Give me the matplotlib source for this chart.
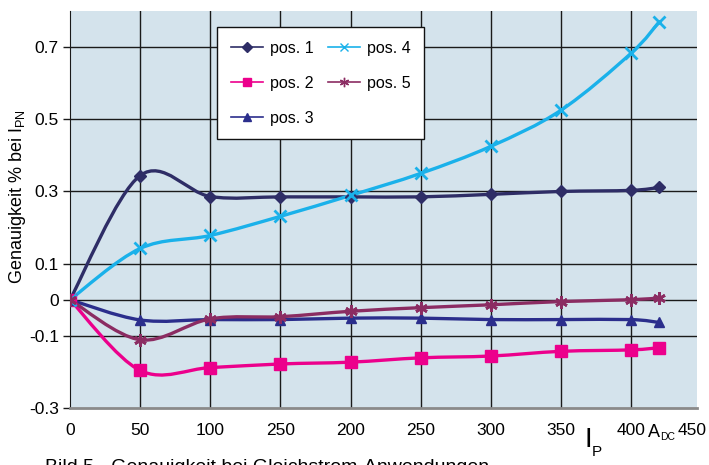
import numpy as np
import matplotlib
matplotlib.use('Agg')
import matplotlib.pyplot as plt
from matplotlib.path import Path
from matplotlib.patches import PathPatch
from matplotlib.lines import Line2D

plt.rcParams['font.family'] = ['Liberation Sans', 'DejaVu Sans']

# Strom I_P in A (DC)
current = [0, 50, 100, 150, 200, 250, 300, 350, 400, 420]
tick_pos = [0, 50, 100, 150, 200, 250, 300, 350, 400]
tick_labels = ['0', '50', '100', '250', '200', '250', '300', '350', '400']

# Genauigkeit % bei I_PN
pos1 = [0, 0.344, 0.286, 0.285, 0.285, 0.285, 0.292, 0.300, 0.303, 0.311]
pos2 = [0, -0.196, -0.188, -0.178, -0.173, -0.161, -0.156, -0.143, -0.139, -0.133]
pos3 = [0, -0.056, -0.055, -0.055, -0.051, -0.051, -0.055, -0.055, -0.055, -0.063]
pos4 = [0, 0.142, 0.178, 0.231, 0.289, 0.350, 0.425, 0.525, 0.683, 0.770]
pos5 = [0, -0.111, -0.053, -0.047, -0.032, -0.022, -0.014, -0.005, 0.000, 0.005]

series = [
    ('pos. 1', pos1, '#2e2d66', 'D', 6.5, 1.0),
    ('pos. 2', pos2, '#ec008c', 's', 8.5, 1.0),
    ('pos. 3', pos3, '#2b2e8c', '^', 7.5, 1.0),
    ('pos. 4', pos4, '#1ab1ea', 'x', 8, 2.0),
    ('pos. 5', pos5, '#8b2c62', (6, 2, 0), 9, 2.0),
]


def smooth_path(x, y):
    # Excel-artige geglaettete Linie (Catmull-Rom als Bezier)
    pts = np.column_stack([x, y]).astype(float)
    n = len(pts)
    verts = [pts[0]]
    codes = [Path.MOVETO]
    for i in range(n - 1):
        p0 = pts[i - 1] if i > 0 else pts[i]
        p1 = pts[i]
        p2 = pts[i + 1]
        p3 = pts[i + 2] if i + 2 < n else pts[i + 1]
        c1 = p1 + (p2 - p0) / 6.0
        c2 = p2 - (p3 - p1) / 6.0
        verts += [c1, c2, p2]
        codes += [Path.CURVE4] * 3
    return Path(verts, codes)


fig = plt.figure(figsize=(7.09, 4.65), dpi=100)
ax = fig.add_axes([70 / 709, 1 - 408 / 465, 627 / 709, 397 / 465])
ax.set_facecolor('#d4e3ec')

ax.set_xlim(0, 447)
ax.set_ylim(-0.3, 0.8)

for yv in [0.7, 0.5, 0.3, 0.1, 0, -0.1]:
    ax.axhline(yv, color='#1a1a1a', lw=1.0, zorder=1)
for xv in tick_pos[1:]:
    ax.axvline(xv, color='#1a1a1a', lw=1.0, zorder=1)

for name, vals, col, mk, ms, mew in series:
    ax.add_patch(PathPatch(smooth_path(current, vals), fill=False,
                           edgecolor=col, lw=2.4, zorder=3,
                           capstyle='round', joinstyle='round'))
    ax.plot(current, vals, linestyle='none', marker=mk, ms=ms, color=col,
            mec=col, mew=mew, zorder=4)

ax.spines['top'].set_visible(False)
ax.spines['right'].set_visible(False)
ax.spines['left'].set_color('#1a1a1a')
ax.spines['bottom'].set_color('#8a8a8a')
ax.spines['bottom'].set_linewidth(2)

ax.set_yticks([0.7, 0.5, 0.3, 0.1, 0, -0.1, -0.3])
ax.set_yticklabels(['0.7', '0.5', '0.3', '0.1', '0', '-0.1', '-0.3'], fontsize=12.5)
ax.set_xticks(tick_pos)
ax.set_xticklabels(tick_labels, fontsize=12.5)
ax.tick_params(axis='y', length=5, width=1, color='#1a1a1a', pad=3)
ax.tick_params(axis='x', length=0, pad=11)

fig.text(692 / 709, 1 - 430 / 465, '450', fontsize=12.5, ha='center', va='center')
fig.text(18 / 709, 1 - 197 / 465, 'Genauigkeit % bei I$_{\\mathregular{PN}}$',
         fontsize=13, rotation=90, ha='center', va='center')

fig.text(588 / 709, 1 - 440 / 465, 'I', fontsize=20, ha='center', va='center')
fig.text(597 / 709, 1 - 452 / 465, 'P', fontsize=11, ha='center', va='center')
fig.text(654 / 709, 1 - 432 / 465, 'A', fontsize=13, ha='center', va='center')
fig.text(668 / 709, 1 - 437 / 465, 'DC', fontsize=7.5, ha='center', va='center')
fig.text(45 / 709, 1 - 459 / 465, 'Bild 5 - Genauigkeit bei Gleichstrom-Anwendungen',
         fontsize=14, ha='left', va='top')

handles = []
for name, vals, col, mk, ms, mew in series:
    handles.append(Line2D([], [], color=col, lw=1.2, marker=mk, ms=ms * 0.75,
                          mew=1.0, mec=col))
labels = [s[0] for s in series]
leg = ax.legend(handles, labels, ncol=2, loc='upper left',
                bbox_to_anchor=(147 / 627, 1 - 16 / 397), fontsize=11.5,
                frameon=True, fancybox=False, framealpha=1, edgecolor='#111111',
                handlelength=2.0, handletextpad=0.45, labelspacing=1.25,
                columnspacing=0.9, borderpad=0.85, borderaxespad=0)
leg.get_frame().set_linewidth(1.0)
leg.set_zorder(5)

fig.savefig('out.png', dpi=100)
